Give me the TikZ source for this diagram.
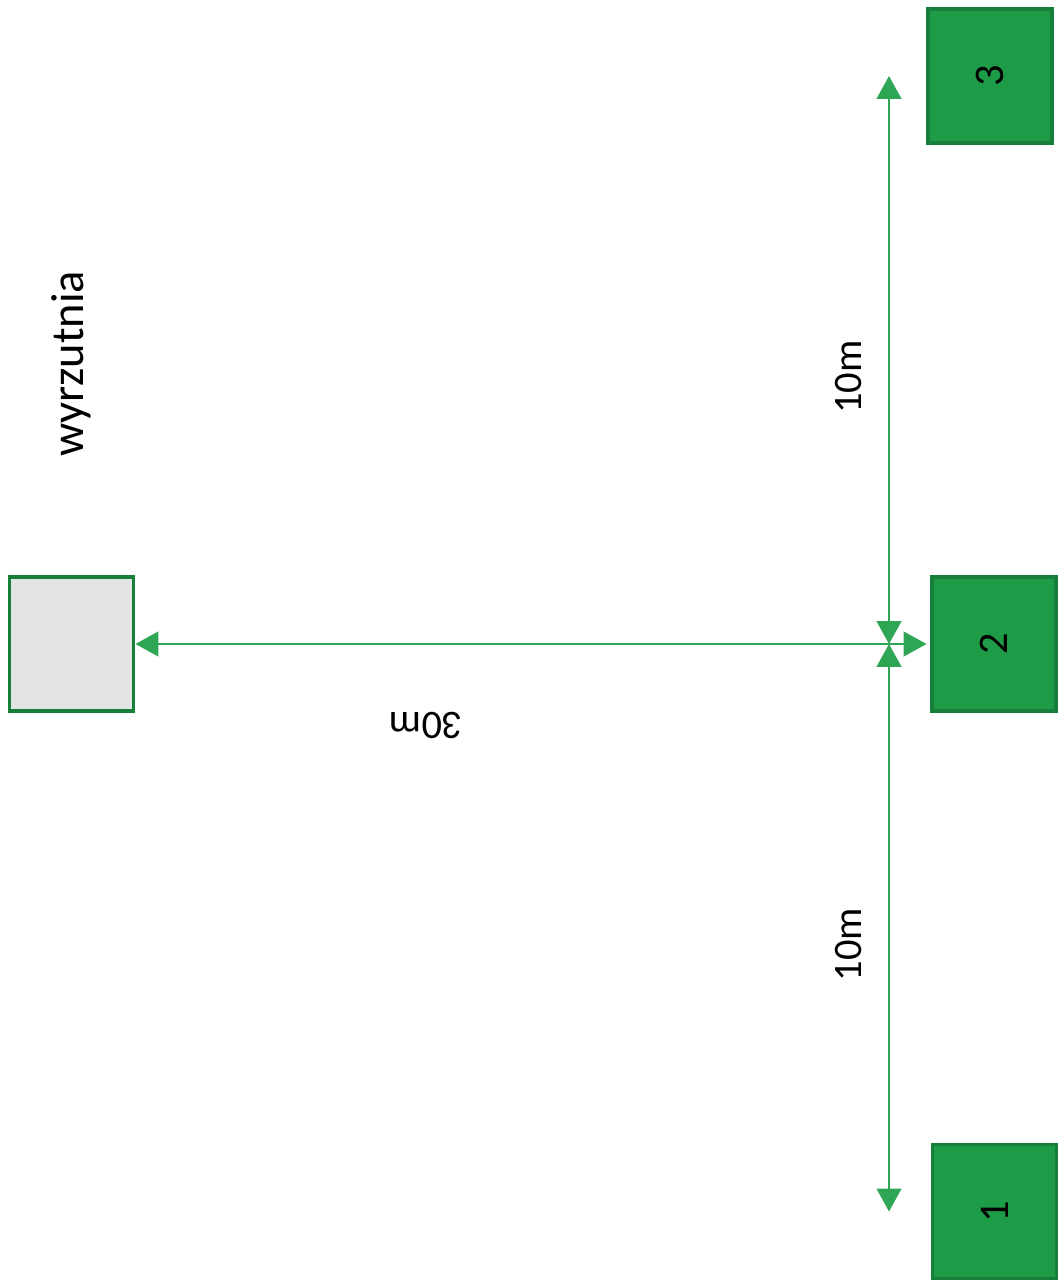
\documentclass[tikz,border=0pt]{standalone}
\usepackage{fontspec}
\setmainfont{Carlito}
\usetikzlibrary{arrows.meta, positioning}

\definecolor{fieldgreen}{HTML}{1E9B47}
\definecolor{edgegreen}{HTML}{16803A}
\definecolor{dimgreen}{HTML}{2FA653}
\definecolor{padgray}{HTML}{E4E4E4}

\begin{document}
\begin{tikzpicture}[x=0.01cm, y=-0.01cm,
        field/.style={draw=edgegreen, line width=1.1pt, fill=fieldgreen,
            minimum width=1.24cm, minimum height=1.34cm, inner sep=0pt,
            font=\fontsize{12}{12}\selectfont},
        dim/.style={color=dimgreen, line width=0.65pt,
            {Triangle[length=6.5pt, width=7pt]}-{Triangle[length=6.5pt, width=7pt]}},
        lbl/.style={text=black, font=\fontsize{11.5}{12}\selectfont}]
        \useasboundingbox (0,0) rectangle (1057,1282);

        \node (pad) [field, fill=padgray] at (71.5,644) {};
        \node (t2) [field] at (994,644) {\rotatebox{90}{2}};
        \node (t3) [field] at (990,76) {\rotatebox{90}{3}};
        \node (t1) [field] at (994.5,1211.5) {\rotatebox{90}{1}};

        \node (padname) [rotate=90, font=\fontsize{13.2}{14}\selectfont] at (71,364) {wyrzutnia};

        \coordinate (mid) at (889,644);
        \coordinate (top) at (mid |- t3);
        \coordinate (bot) at (mid |- t1);

        \path
        (pad.east) edge [dim, shorten >=1pt] (t2.west)
        (mid) edge [dim] node [lbl, sloped, above=4pt, pos=0.47] {10m} (top)
        (bot) edge [dim] node [lbl, sloped, above=4pt, pos=0.47] {10m} (mid);

        \node (dist) [lbl, rotate=180] at (426,725) {30m};
    \end{tikzpicture}
\end{document}
